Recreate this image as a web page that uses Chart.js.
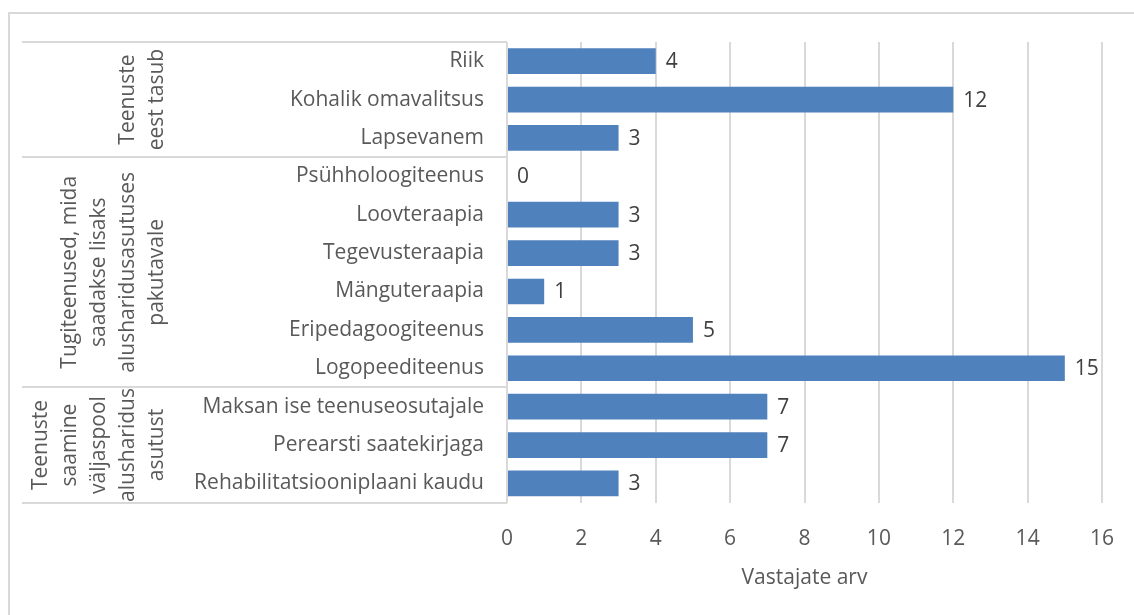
<!DOCTYPE html>
<html><head><meta charset="utf-8">
<script src="https://cdn.jsdelivr.net/npm/chart.js@4"></script>
<style>html,body{margin:0;padding:0;background:#fff;}#wrap{width:1134px;height:615px;}</style>
</head><body><div id="wrap"><canvas id="c" width="1134" height="615"></canvas></div>
<script>
const categories = ["Riik","Kohalik omavalitsus","Lapsevanem","Psühholoogiteenus","Loovteraapia","Tegevusteraapia","Mänguteraapia","Eripedagoogiteenus","Logopeediteenus","Maksan ise teenuseosutajale","Perearsti saatekirjaga","Rehabilitatsiooniplaani kaudu"];
const values = [4,12,3,0,3,3,1,5,15,7,7,3];
const groupLabels = [["Teenuste","eest tasub"],["Tugiteenused, mida","saadakse lisaks","alusharidusasutuses","pakutavale"],["Teenuste","saamine","väljaspool","alusharidus","asutust"]];
const groupSizes = [3,6,3];
const xMin = 0, xMax = 16, xStep = 2;
const xTitle = "Vastajate arv";

const FONT = "'Open Sans', sans-serif";
const FS = 21;
const GRID = '#d9d9d9';

const framePlugin = {
  id: 'frame',
  beforeDraw(chart) {
    const ctx = chart.ctx;
    ctx.save();
    ctx.fillStyle = '#fff';
    ctx.fillRect(0, 0, chart.width, chart.height);
    ctx.strokeStyle = GRID;
    ctx.lineWidth = 2;
    ctx.strokeRect(9, 13, chart.width + 50, chart.height + 50);
    ctx.restore();
  }
};

const groupPlugin = {
  id: 'groups',
  afterDraw(chart) {
    const ctx = chart.ctx;
    const ys = chart.scales.y;
    const ca = chart.chartArea;
    const n = categories.length;
    const boundary = (i) => {
      if (i <= 0) return ca.top;
      if (i >= n) return ca.bottom;
      return (ys.getPixelForValue(i - 1) + ys.getPixelForValue(i)) / 2;
    };
    ctx.save();
    ctx.strokeStyle = GRID;
    ctx.lineWidth = 2;
    const left = 22;
    let idx = 0;
    const bounds = [boundary(0)];
    groupSizes.forEach(s => { idx += s; bounds.push(boundary(idx)); });
    bounds.forEach(b => {
      ctx.beginPath();
      ctx.moveTo(left, Math.round(b));
      ctx.lineTo(ca.left, Math.round(b));
      ctx.stroke();
    });
    ctx.fillStyle = '#595959';
    ctx.font = FS + 'px ' + FONT;
    ctx.textAlign = 'center';
    ctx.textBaseline = 'middle';
    const lastX = 157, lineGap = 29;
    groupLabels.forEach((lines, g) => {
      const yc = (bounds[g] + bounds[g + 1]) / 2;
      const m = lines.length;
      lines.forEach((t, k) => {
        const x = lastX - (m - 1 - k) * lineGap;
        ctx.save();
        ctx.translate(x, yc);
        ctx.rotate(-Math.PI / 2);
        ctx.fillText(t, 0, 0);
        ctx.restore();
      });
    });
    ctx.restore();
  }
};

const labelPlugin = {
  id: 'vals',
  afterDatasetsDraw(chart) {
    const ctx = chart.ctx;
    const meta = chart.getDatasetMeta(0);
    ctx.save();
    ctx.fillStyle = '#404040';
    ctx.font = FS + 'px ' + FONT;
    ctx.textAlign = 'left';
    ctx.textBaseline = 'middle';
    meta.data.forEach((el, i) => {
      ctx.fillText(String(values[i]), el.x + 10, el.y + 1);
    });
    ctx.restore();
  }
};

new Chart(document.getElementById('c'), {
  type: 'bar',
  data: {
    labels: categories,
    datasets: [{
      data: values,
      backgroundColor: '#4F81BD',
      borderWidth: 0,
      categoryPercentage: 1,
      barPercentage: 0.67
    }]
  },
  options: {
    indexAxis: 'y',
    responsive: false,
    animation: false,
    devicePixelRatio: 1,
    layout: { padding: { left: 22, top: 42, right: 32, bottom: 24 } },
    plugins: { legend: { display: false }, tooltip: { enabled: false } },
    scales: {
      x: {
        min: xMin, max: xMax,
        ticks: { stepSize: xStep, color: '#595959', font: { family: FONT, size: FS }, padding: 24 },
        grid: { color: GRID, lineWidth: 2, drawTicks: false },
        border: { display: false },
        title: { display: true, text: xTitle, color: '#595959', font: { family: FONT, size: FS }, padding: { top: -10, bottom: 0 } },
        afterFit(scale) { scale.paddingRight = 0; scale.paddingLeft = 0; }
      },
      y: {
        ticks: { color: '#595959', font: { family: FONT, size: FS }, padding: 23 },
        grid: { display: false, drawTicks: false },
        border: { display: false },
        afterFit(scale) { scale.width = 485; }
      }
    }
  },
  plugins: [framePlugin, groupPlugin, labelPlugin]
});
</script>
</body></html>
